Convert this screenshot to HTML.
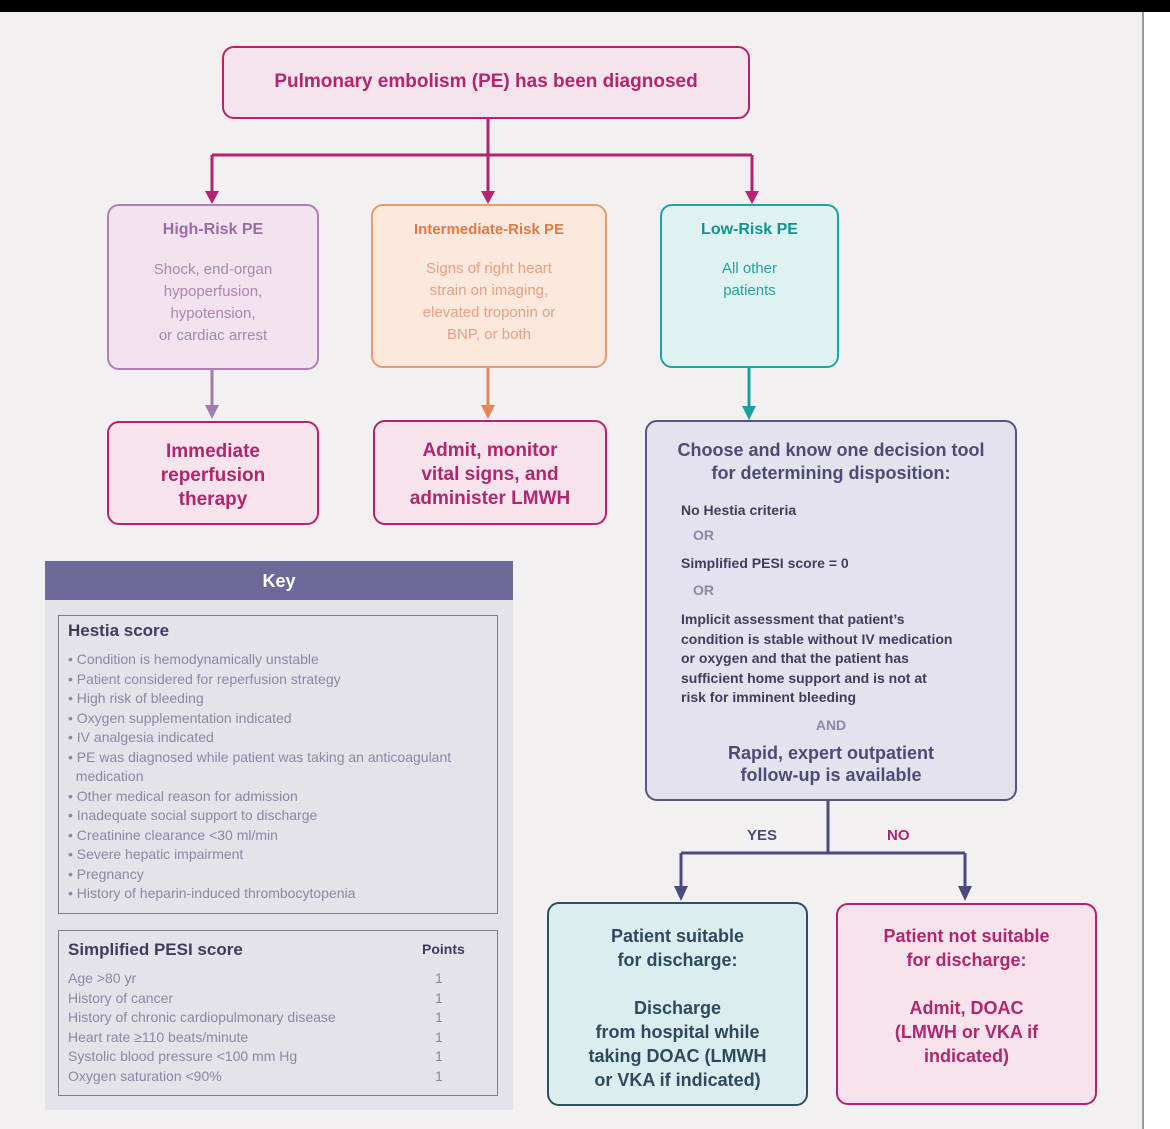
<!DOCTYPE html>
<html><head><meta charset="utf-8"><style>
*{margin:0;padding:0;box-sizing:border-box}
body{width:1170px;height:1129px;background:#f2f0f1;position:relative;overflow:hidden;font-family:"Liberation Sans",sans-serif}
.b{position:absolute;border-radius:12px;border:2.5px solid}
.t{position:absolute;text-align:center;white-space:nowrap}
.l{position:absolute;white-space:nowrap}
</style></head><body>
<div style="position:absolute;left:0;top:0;width:1170px;height:12px;background:#000"></div>
<div style="position:absolute;left:1142px;top:12px;width:28px;height:1117px;background:#fff;border-left:2px solid #9a9a9a"></div>

<svg style="position:absolute;left:0;top:0" width="1170" height="1129">
<g fill="none" stroke-width="3">
<path d="M488 119V155M212 155H752M212 155V193M488 155V193M752 155V193" stroke="#b5236f"/>
<path d="M212 370V407" stroke="#a47bb0"/>
<path d="M488 368V407" stroke="#e5865a"/>
<path d="M749 368V408" stroke="#16a0a0"/>
<path d="M828 801V853M681 853H965M681 853V888M965 853V888" stroke="#4a4b7c"/>
</g>
<polygon points="205,191 219,191 212,204" fill="#b5236f"/>
<polygon points="481,191 495,191 488,204" fill="#b5236f"/>
<polygon points="745,191 759,191 752,204" fill="#b5236f"/>
<polygon points="205,405 219,405 212,419" fill="#a47bb0"/>
<polygon points="481,405 495,405 488,419" fill="#e5865a"/>
<polygon points="742,406 756,406 749,420" fill="#16a0a0"/>
<polygon points="674,886 688,886 681,901" fill="#4a4b7c"/>
<polygon points="958,886 972,886 965,901" fill="#4a4b7c"/>
</svg>

<div class="b" style="left:222px;top:46px;width:528px;height:73px;border-color:#b5236f;background:#f6e4ec"></div>
<div class="t" style="left:222px;width:528px;top:71px;font-size:19px;font-weight:bold;color:#b0266f">Pulmonary embolism (PE) has been diagnosed</div>

<div class="b" style="left:107px;top:204px;width:212px;height:166px;border-color:#b07fb8;background:#f3e3ee"></div>
<div class="t" style="left:107px;width:212px;top:221px;font-size:16px;font-weight:bold;color:#9b6ba5">High-Risk PE</div>
<div class="t" style="left:107px;width:212px;top:259px;font-size:15px;line-height:22px;color:#a886ad">Shock, end-organ<br>hypoperfusion,<br>hypotension,<br>or cardiac arrest</div>

<div class="b" style="left:371px;top:204px;width:236px;height:164px;border-color:#eb9a6f;background:#fce8dc"></div>
<div class="t" style="left:371px;width:236px;top:221px;font-size:15px;font-weight:bold;color:#e07a4a">Intermediate-Risk PE</div>
<div class="t" style="left:371px;width:236px;top:258px;font-size:15px;line-height:22px;color:#e9a184">Signs of right heart<br>strain on imaging,<br>elevated troponin or<br>BNP, or both</div>

<div class="b" style="left:660px;top:204px;width:179px;height:164px;border-color:#1aa5a5;background:#e0f1f1"></div>
<div class="t" style="left:660px;width:179px;top:221px;font-size:16px;font-weight:bold;color:#11948f">Low-Risk PE</div>
<div class="t" style="left:660px;width:179px;top:258px;font-size:15px;line-height:22px;color:#22a5a0">All other<br>patients</div>

<div class="b" style="left:107px;top:421px;width:212px;height:104px;border-color:#b5236f;background:#f7e3ec"></div>
<div class="t" style="left:107px;width:212px;top:440px;font-size:19px;line-height:24px;font-weight:bold;color:#b0266f">Immediate<br>reperfusion<br>therapy</div>

<div class="b" style="left:373px;top:420px;width:234px;height:105px;border-color:#b5236f;background:#f7e3ec"></div>
<div class="t" style="left:373px;width:234px;top:439px;font-size:19px;line-height:24px;font-weight:bold;color:#b0266f">Admit, monitor<br>vital signs, and<br>administer LMWH</div>

<div class="b" style="left:645px;top:420px;width:372px;height:381px;border-color:#545585;background:#e4e3ed"></div>
<div class="t" style="left:645px;width:372px;top:439px;font-size:18px;line-height:23px;font-weight:bold;color:#4c4b78">Choose and know one decision tool<br>for determining disposition:</div>
<div class="l" style="left:681px;top:502px;font-size:14px;font-weight:bold;color:#3e3d5e">No Hestia criteria</div>
<div class="l" style="left:693px;top:527px;font-size:14px;font-weight:bold;color:#8a89a8">OR</div>
<div class="l" style="left:681px;top:555px;font-size:14px;font-weight:bold;color:#3e3d5e">Simplified PESI score = 0</div>
<div class="l" style="left:693px;top:582px;font-size:14px;font-weight:bold;color:#8a89a8">OR</div>
<div class="l" style="left:681px;top:610px;font-size:14px;line-height:19.5px;font-weight:bold;color:#3e3d5e">Implicit assessment that patient’s<br>condition is stable without IV medication<br>or oxygen and that the patient has<br>sufficient home support and is not at<br>risk for imminent bleeding</div>
<div class="t" style="left:645px;width:372px;top:717px;font-size:14px;font-weight:bold;color:#8a89a8">AND</div>
<div class="t" style="left:645px;width:372px;top:742px;font-size:18px;line-height:22px;font-weight:bold;color:#4c4b78">Rapid, expert outpatient<br>follow-up is available</div>

<div class="l" style="left:747px;top:827px;font-size:15px;font-weight:bold;color:#4c4b78">YES</div>
<div class="l" style="left:887px;top:827px;font-size:15px;font-weight:bold;color:#b5236f">NO</div>

<div class="b" style="left:547px;top:902px;width:261px;height:204px;border-color:#2c4f63;background:#dcedf0"></div>
<div class="t" style="left:547px;width:261px;top:924px;font-size:18px;line-height:24px;font-weight:bold;color:#2d4a5e">Patient suitable<br>for discharge:<br><br>Discharge<br>from hospital while<br>taking DOAC (LMWH<br>or VKA if indicated)</div>

<div class="b" style="left:836px;top:903px;width:261px;height:202px;border-color:#b5236f;background:#f7e3ec"></div>
<div class="t" style="left:836px;width:261px;top:924px;font-size:18px;line-height:24px;font-weight:bold;color:#b0266f">Patient not suitable<br>for discharge:<br><br>Admit, DOAC<br>(LMWH or VKA if<br>indicated)</div>

<div style="position:absolute;left:45px;top:561px;width:468px;height:549px;background:#e4e3ea"></div>
<div style="position:absolute;left:45px;top:561px;width:468px;height:39px;background:#6d6a9a"></div>
<div class="t" style="left:45px;width:468px;top:571px;font-size:18px;font-weight:bold;color:#fff">Key</div>
<div style="position:absolute;left:58px;top:615px;width:440px;height:299px;border:1.5px solid #7d7c9c"></div>
<div class="l" style="left:68px;top:621px;font-size:17px;font-weight:bold;color:#3e3d5e">Hestia score</div>
<div class="l" style="left:68px;top:650px;font-size:14px;line-height:19.5px;color:#8a88a4">• Condition is hemodynamically unstable<br>• Patient considered for reperfusion strategy<br>• High risk of bleeding<br>• Oxygen supplementation indicated<br>• IV analgesia indicated<br>• PE was diagnosed while patient was taking an anticoagulant<br>&nbsp;&nbsp;medication<br>• Other medical reason for admission<br>• Inadequate social support to discharge<br>• Creatinine clearance &lt;30 ml/min<br>• Severe hepatic impairment<br>• Pregnancy<br>• History of heparin-induced thrombocytopenia</div>
<div style="position:absolute;left:58px;top:930px;width:440px;height:166px;border:1.5px solid #7d7c9c"></div>
<div class="l" style="left:68px;top:940px;font-size:17px;font-weight:bold;color:#3e3d5e">Simplified PESI score</div>
<div class="l" style="left:422px;top:941px;font-size:14px;font-weight:bold;color:#3e3d5e">Points</div>
<div class="l" style="left:68px;top:969px;font-size:14px;line-height:19.5px;color:#8a88a4">Age &gt;80 yr<br>History of cancer<br>History of chronic cardiopulmonary disease<br>Heart rate ≥110 beats/minute<br>Systolic blood pressure &lt;100 mm Hg<br>Oxygen saturation &lt;90%</div>
<div class="l" style="left:435px;top:969px;font-size:14px;line-height:19.5px;color:#8a88a4">1<br>1<br>1<br>1<br>1<br>1</div>
</body></html>
